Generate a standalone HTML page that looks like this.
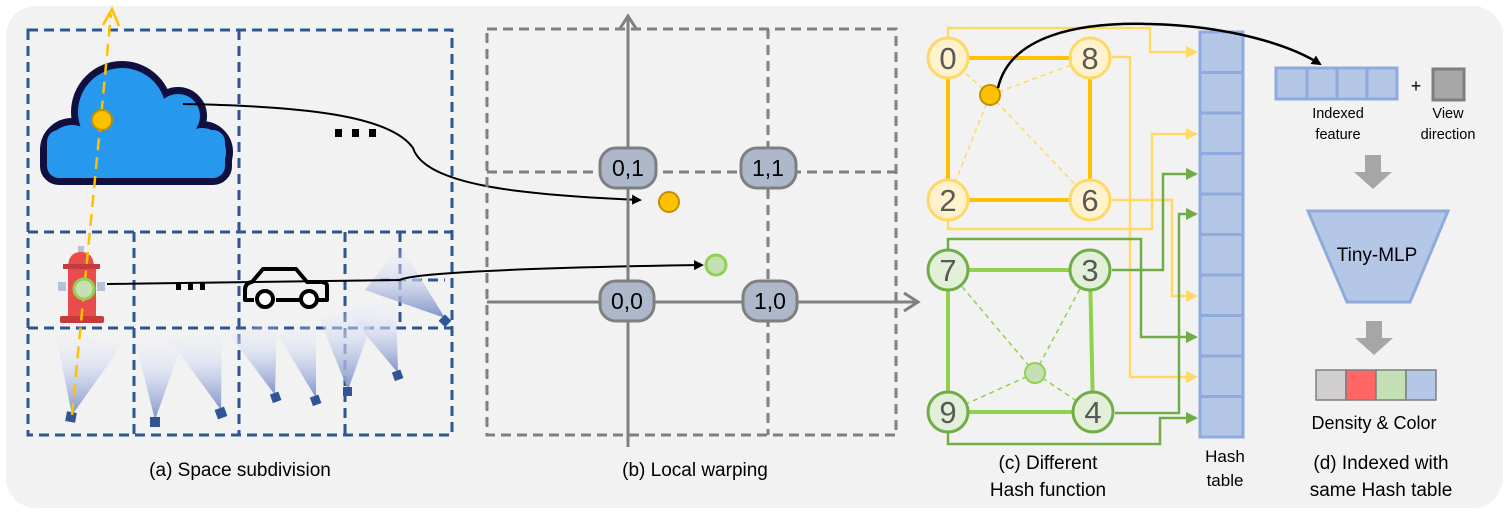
<!DOCTYPE html>
<html><head><meta charset="utf-8"><style>
html,body{margin:0;padding:0;background:#fff;}
svg{display:block;font-family:"Liberation Sans","DejaVu Sans",sans-serif;}
</style></head><body>
<svg width="1508" height="514" viewBox="0 0 1508 514" xmlns="http://www.w3.org/2000/svg">
<defs>
<linearGradient id="cg" x1="0" y1="1" x2="0" y2="0">
<stop offset="0" stop-color="#7d92c8"/><stop offset="0.6" stop-color="#d6ddf2" stop-opacity="0.6"/><stop offset="1" stop-color="#eef1fa" stop-opacity="0.1"/>
</linearGradient>
<marker id="ab" markerWidth="10" markerHeight="10" refX="8" refY="5" orient="auto" markerUnits="userSpaceOnUse"><path d="M0,0 L10,5 L0,10z" fill="#000"/></marker>
<marker id="ao" markerWidth="12" markerHeight="12" refX="10" refY="6" orient="auto" markerUnits="userSpaceOnUse"><path d="M0,0 L12,6 L0,12z" fill="#ffd966"/></marker>
<marker id="ag" markerWidth="12" markerHeight="12" refX="10" refY="6" orient="auto" markerUnits="userSpaceOnUse"><path d="M0,0 L12,6 L0,12z" fill="#70ad47"/></marker>
</defs>
<rect x="6" y="6" width="1497" height="502" rx="30" fill="#f2f2f2"/>

<!-- (a) grid -->
<g fill="none" stroke="#2f5597" stroke-width="3" stroke-dasharray="10,6">
<rect x="28" y="30" width="424" height="405"/>
<line x1="239" y1="30" x2="239" y2="435"/>
<line x1="28" y1="232" x2="452" y2="232"/>
<line x1="28" y1="328" x2="452" y2="328"/>
<line x1="134" y1="232" x2="134" y2="435"/>
<line x1="345" y1="232" x2="345" y2="435"/>
<line x1="400" y1="232" x2="400" y2="328"/>
<line x1="380" y1="280" x2="445" y2="280"/>
</g>
<!-- camera cones -->
<g fill="url(#cg)">
<polygon points="72,415 55,330 122,345"/>
<polygon points="155,420 135,340 185,335"/>
<polygon points="221,410 170,340 222,330"/>
<polygon points="275,395 230,335 277,320"/>
<polygon points="316,398 278,335 316,320"/>
<polygon points="348,390 320,320 380,300"/>
<polygon points="398,373 345,310 396,300"/>
<polygon points="445,318 365,290 400,245"/>
</g>
<g fill="#2f5597">
<rect x="66" y="412" width="10" height="10" transform="rotate(10 71 417)"/>
<rect x="150" y="417" width="10" height="10"/>
<rect x="216" y="408" width="10" height="10" transform="rotate(-20 221 413)"/>
<rect x="271" y="393" width="9" height="9" transform="rotate(-20 275 397)"/>
<rect x="311" y="396" width="9" height="9" transform="rotate(-20 315 400)"/>
<rect x="343" y="387" width="9" height="9"/>
<rect x="393" y="371" width="9" height="9" transform="rotate(-20 397 375)"/>
<rect x="441" y="316" width="9" height="9" transform="rotate(45 445 320)"/>
</g>
<!-- cloud -->
<g fill="#0f0f40" stroke="#0f0f40" stroke-width="14" stroke-linejoin="round">
<circle cx="122" cy="112" r="44"/><circle cx="178" cy="116" r="22"/><circle cx="72" cy="150" r="25"/><circle cx="202" cy="152" r="24"/>
<rect x="47" y="140" width="178" height="38" rx="12"/>
</g>
<g fill="#2699ef">
<circle cx="122" cy="112" r="44"/><circle cx="178" cy="116" r="22"/><circle cx="72" cy="150" r="25"/><circle cx="202" cy="152" r="24"/>
<rect x="47" y="130" width="178" height="48" rx="12"/>
</g>
<!-- hydrant -->
<g>
<rect x="78" y="246" width="6" height="8" fill="#b8c2d6"/>
<path d="M68,268 Q68,252 81,252 Q94,252 94,268z" fill="#e84c4c"/>
<rect x="63" y="264" width="37" height="5" fill="#c53b3b"/>
<rect x="68" y="269" width="28" height="50" fill="#e84c4c"/>
<rect x="58" y="282" width="8" height="9" fill="#b8c2d6"/>
<rect x="97" y="282" width="8" height="9" fill="#b8c2d6"/>
<rect x="60" y="316" width="44" height="7" rx="2" fill="#c53b3b"/>
</g>
<!-- car -->
<g fill="none" stroke="#000" stroke-width="4" stroke-linejoin="round">
<path d="M245,290 L245,300 L254,300 M276,300 L300,300 M318,300 L327,300 L327,286 Q327,282 320,282 L307,282 L296,269 L263,269 L252,282 Q245,283 245,290"/>
<circle cx="265" cy="299" r="8" fill="#fff"/><circle cx="309" cy="299" r="8" fill="#fff"/>
</g>
<!-- orange ray -->
<line x1="72" y1="415" x2="111" y2="14" stroke="#ffc000" stroke-width="2.5" stroke-dasharray="12,7"/>
<path d="M103,25 L112,9 L119,26" fill="none" stroke="#ffc000" stroke-width="2.5"/>
<circle cx="102" cy="120" r="10" fill="#ffc000" stroke="#c09000" stroke-width="2"/>
<circle cx="84" cy="289" r="10" fill="#c5e0b4" stroke="#92d050" stroke-width="3"/>
<!-- connectors -->
<path d="M183,104 C300,106 390,115 413,148 C425,185 520,195 640,200" fill="none" stroke="#000" stroke-width="2" marker-end="url(#ab)"/>
<path d="M107,284 L400,280 C410,274 500,268 702,265" fill="none" stroke="#000" stroke-width="2" marker-end="url(#ab)"/>
<g fill="#000"><rect x="335" y="129" width="7" height="8"/><rect x="352" y="129" width="7" height="8"/><rect x="369" y="129" width="7" height="8"/>
<rect x="176" y="283" width="5" height="7"/><rect x="188" y="283" width="5" height="7"/><rect x="200" y="283" width="5" height="7"/></g>
<text x="240" y="476" font-size="19" text-anchor="middle" fill="#000">(a)  Space subdivision</text>

<!-- (b) -->
<g fill="none" stroke="#808080" stroke-width="3" stroke-dasharray="10,6">
<rect x="487" y="29" width="409" height="406"/>
<line x1="768" y1="29" x2="768" y2="435"/>
<line x1="487" y1="172" x2="896" y2="172"/>
</g>
<g stroke="#808080" stroke-width="3" fill="none">
<line x1="628" y1="447" x2="628" y2="17"/><path d="M619,30 L628,16 L637,30"/>
<line x1="487" y1="302" x2="918" y2="302"/><path d="M904,293 L918,302 L904,311"/>
</g>
<g fill="#adb9ca" stroke="#7f7f7f" stroke-width="3">
<rect x="600" y="148" width="56" height="40" rx="16"/>
<rect x="741" y="148" width="55" height="40" rx="16"/>
<rect x="600" y="281" width="54" height="40" rx="16"/>
<rect x="743" y="281" width="54" height="40" rx="16"/>
</g>
<g font-size="23" text-anchor="middle" fill="#000">
<text x="628" y="176">0,1</text><text x="768" y="176">1,1</text>
<text x="627" y="309">0,0</text><text x="770" y="309">1,0</text>
</g>
<circle cx="669" cy="202" r="10" fill="#ffc000" stroke="#c09000" stroke-width="2"/>
<circle cx="716" cy="265" r="10" fill="#c5e0b4" stroke="#92d050" stroke-width="3"/>
<text x="695" y="476" font-size="19" text-anchor="middle" fill="#000">(b) Local warping</text>

<!-- (c) routes -->
<g fill="none" stroke="#ffd966" stroke-width="2.5" marker-end="url(#ao)">
<path d="M948,38 L948,28 L1150,28 L1150,52 L1196,52"/>
<path d="M1112,57 L1130,57 L1130,377 L1196,377"/>
<path d="M948,220 L948,229 L1152,229 L1152,134 L1196,134"/>
<path d="M1112,200 L1172,200 L1172,296 L1196,296"/>
</g>
<g fill="none" stroke="#70ad47" stroke-width="2.5" marker-end="url(#ag)">
<path d="M948,250 L948,239 L1141,239 L1141,337 L1196,337"/>
<path d="M1112,270 L1163,270 L1163,174 L1196,174"/>
<path d="M1115,413 L1179,413 L1179,214 L1196,214"/>
<path d="M948,433 L948,444 L1160,444 L1160,418 L1196,418"/>
</g>
<!-- hash table -->
<g fill="#b4c7e7" stroke="#8faadc" stroke-width="3">
<rect x="1200" y="32" width="43" height="40.5"/><rect x="1200" y="72.5" width="43" height="40.5"/>
<rect x="1200" y="113" width="43" height="40.5"/><rect x="1200" y="153.5" width="43" height="40.5"/>
<rect x="1200" y="194" width="43" height="40.5"/><rect x="1200" y="234.5" width="43" height="40.5"/>
<rect x="1200" y="275" width="43" height="40.5"/><rect x="1200" y="315.5" width="43" height="40.5"/>
<rect x="1200" y="356" width="43" height="40.5"/><rect x="1200" y="396.5" width="43" height="40.5"/>
</g>
<!-- orange square -->
<g stroke="#ffd966" stroke-width="1.5" stroke-dasharray="5,4">
<line x1="990" y1="95" x2="948" y2="58"/><line x1="990" y1="95" x2="1090" y2="58"/>
<line x1="990" y1="95" x2="948" y2="200"/><line x1="990" y1="95" x2="1090" y2="200"/>
</g>
<rect x="948" y="58" width="142" height="142" fill="none" stroke="#ffc000" stroke-width="4"/>
<g fill="#fff2cc" stroke="#ffd966" stroke-width="3">
<circle cx="948" cy="58" r="20"/><circle cx="1090" cy="58" r="20"/><circle cx="948" cy="200" r="20"/><circle cx="1090" cy="200" r="20"/>
</g>
<!-- green square -->
<g stroke="#92d050" stroke-width="1.5" stroke-dasharray="5,4">
<line x1="1035" y1="373" x2="948" y2="270"/><line x1="1035" y1="373" x2="1090" y2="270"/>
<line x1="1035" y1="373" x2="948" y2="412"/><line x1="1035" y1="373" x2="1093" y2="412"/>
</g>
<path d="M948,270 L1090,270 L1093,412 L948,412 Z" fill="none" stroke="#92d050" stroke-width="4"/>
<g fill="#e2f0d9" stroke="#70ad47" stroke-width="3">
<circle cx="948" cy="270" r="20"/><circle cx="1090" cy="270" r="20"/><circle cx="948" cy="412" r="20"/><circle cx="1093" cy="412" r="20"/>
</g>
<g font-size="31" text-anchor="middle" fill="#595959">
<text x="948" y="69">0</text><text x="1090" y="69">8</text><text x="948" y="211">2</text><text x="1090" y="211">6</text>
<text x="948" y="281">7</text><text x="1090" y="281">3</text><text x="948" y="423">9</text><text x="1093" y="423">4</text>
</g>
<ellipse cx="990" cy="95" rx="10" ry="10" fill="#ffc000" stroke="#c09000" stroke-width="2"/>
<circle cx="1035" cy="373" r="10" fill="#c5e0b4" stroke="#92d050" stroke-width="2"/>
<path d="M998,88 C1010,35 1080,22 1150,24 C1230,26 1290,45 1320,64" fill="none" stroke="#000" stroke-width="2.5" marker-end="url(#ab)"/>
<g font-size="19" text-anchor="middle" fill="#000">
<text x="1048" y="469">(c) Different</text><text x="1048" y="496">Hash function</text>
<text x="1225" y="462" font-size="17">Hash</text><text x="1225" y="486" font-size="17">table</text>
</g>

<!-- (d) -->
<g fill="#b4c7e7" stroke="#8faadc" stroke-width="3">
<rect x="1276" y="68" width="31" height="31"/><rect x="1307" y="68" width="30" height="31"/>
<rect x="1337" y="68" width="30" height="31"/><rect x="1367" y="68" width="30" height="31"/>
</g>
<text x="1416" y="92" font-size="18" text-anchor="middle" fill="#000">+</text>
<rect x="1433" y="69" width="31" height="31" fill="#a6a6a6" stroke="#7f7f7f" stroke-width="3"/>
<g font-size="14.5" text-anchor="middle" fill="#000">
<text x="1338" y="118">Indexed</text><text x="1338" y="139">feature</text>
<text x="1448" y="118">View</text><text x="1448" y="139">direction</text>
</g>
<polygon points="1365,155 1381,155 1381,172 1392,172 1373,189 1354,172 1365,172" fill="#a6a6a6"/>
<polygon points="1308,211 1448,211 1410,302 1347,302" fill="#b4c7e7" stroke="#8faadc" stroke-width="3"/>
<text x="1377" y="261" font-size="19" text-anchor="middle" fill="#000">Tiny-MLP</text>
<polygon points="1366,321 1382,321 1382,338 1393,338 1374,355 1355,338 1366,338" fill="#a6a6a6"/>
<g stroke="#7f7f7f" stroke-width="1.5">
<rect x="1316" y="370" width="30" height="30" fill="#d0cece"/><rect x="1346" y="370" width="30" height="30" fill="#ff6666"/>
<rect x="1376" y="370" width="30" height="30" fill="#c5e0b4"/><rect x="1406" y="370" width="30" height="30" fill="#b4c7e7"/>
</g>
<g font-size="18" text-anchor="middle" fill="#000">
<text x="1374" y="429">Density &amp; Color</text>
<text x="1381" y="469" font-size="19">(d) Indexed with</text>
<text x="1381" y="496" font-size="19">same Hash table</text>
</g>
</svg>
</body></html>
